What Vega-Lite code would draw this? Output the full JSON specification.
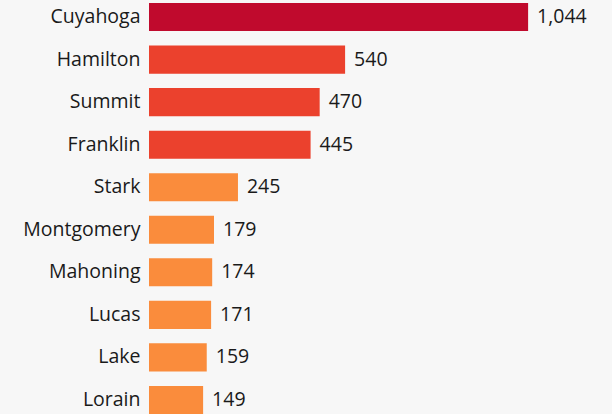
{
  "$schema": "https://vega.github.io/schema/vega-lite/v6.json",
  "autosize": {"type": "none"},
  "width": 463,
  "height": 411,
  "padding": {"left": 149, "top": 3, "right": 0, "bottom": 0},
  "background": "#f7f7f7",
  "config": {"view": {"stroke": null}, "font": "Open Sans"},
  "data": {
    "values": [
      {"county": "Cuyahoga", "cases": 1044, "tier": "top"},
      {"county": "Hamilton", "cases": 540, "tier": "high"},
      {"county": "Summit", "cases": 470, "tier": "high"},
      {"county": "Franklin", "cases": 445, "tier": "high"},
      {"county": "Stark", "cases": 245, "tier": "mid"},
      {"county": "Montgomery", "cases": 179, "tier": "mid"},
      {"county": "Mahoning", "cases": 174, "tier": "mid"},
      {"county": "Lucas", "cases": 171, "tier": "mid"},
      {"county": "Lake", "cases": 159, "tier": "mid"},
      {"county": "Lorain", "cases": 149, "tier": "mid"}
    ]
  },
  "encoding": {
    "y": {
      "field": "county",
      "type": "nominal",
      "sort": {"field": "cases", "order": "descending"},
      "scale": {"paddingInner": 0.34, "paddingOuter": 0},
      "axis": {
        "title": null,
        "domain": false,
        "ticks": false,
        "labelPadding": 9,
        "labelFontSize": 19.5,
        "labelFontWeight": 500,
        "labelColor": "#1a1a1a",
        "labelFont": "Open Sans"
      }
    },
    "x": {
      "field": "cases",
      "type": "quantitative",
      "scale": {"domain": [0, 1275], "nice": false},
      "axis": null
    }
  },
  "layer": [
    {
      "mark": {"type": "bar"},
      "encoding": {
        "color": {
          "field": "tier",
          "type": "nominal",
          "scale": {"domain": ["top", "high", "mid"], "range": ["#c00a2d", "#eb412d", "#fa8c3c"]},
          "legend": null
        }
      }
    },
    {
      "mark": {"type": "text", "align": "left", "baseline": "middle", "dx": 9, "fontSize": 19.5, "fontWeight": 500, "color": "#1a1a1a", "font": "Open Sans"},
      "encoding": {
        "text": {"field": "cases", "type": "quantitative", "format": ","}
      }
    }
  ]
}
